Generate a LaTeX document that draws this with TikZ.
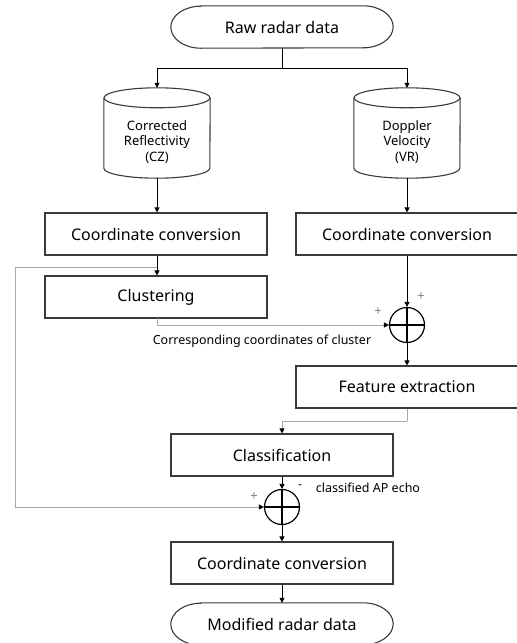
\documentclass[tikz,border=0pt]{standalone}
\usepackage{fontspec}
\setmainfont{Noto Sans}
\usetikzlibrary{arrows.meta}
\definecolor{edge}{HTML}{3A3A3A}
\definecolor{lgrey}{HTML}{A8A8A8}
\tikzset{
  x=1pt,y=-1pt,
  procbox/.style={draw=edge,line width=1.1pt,minimum width=222pt,minimum height=42pt,inner sep=0pt,font=\fontsize{16}{18}\selectfont},
  term/.style={minimum width=222pt,minimum height=42pt,inner sep=0pt,font=\fontsize{16}{18}\selectfont},
  cyl/.style={minimum width=106pt,minimum height=90pt,inner sep=0pt},
  sumnode/.style={draw=black,circle,line width=1.2pt,minimum size=35pt,inner sep=0pt},
  arr/.style={draw=black,line width=0.7pt,-{Triangle[length=5pt,width=5pt]}},
  garr/.style={draw=lgrey,line width=1pt,-{Triangle[length=5pt,width=5pt,color=black]}},
  gline/.style={draw=lgrey,line width=1pt},
  plus/.style={font=\fontsize{13}{13}\selectfont,text=gray,inner sep=0pt},
  smalltxt/.style={font=\fontsize{12.5}{14}\selectfont,inner sep=0pt},
}
\begin{document}
\begin{tikzpicture}
\useasboundingbox (0,0) rectangle (517,643);
% nodes
\node[term] (raw) at (282,27) {Raw radar data};
\node[term] (mod) at (282,624) {Modified radar data};
\foreach \t in {raw,mod}{
  \draw[draw=edge,line width=1.1pt] ([xshift=30pt]\t.north west) -- ([xshift=-30pt]\t.north east)
    arc[start angle=90,end angle=-90,x radius=30pt,y radius=21pt]
    -- ([xshift=30pt]\t.south west)
    arc[start angle=270,end angle=90,x radius=30pt,y radius=21pt] -- cycle;
}
\node[cyl] (cz) at (157,133) {};
\node[cyl] (vr) at (407,133) {};
\foreach \c in {cz,vr}{
  \draw[draw=edge,line width=1.1pt] ([yshift=-10pt]\c.north west) -- ([yshift=10pt]\c.south west)
    arc[start angle=180,end angle=360,x radius=53pt,y radius=10pt]
    -- ([yshift=-10pt]\c.north east);
  \draw[draw=edge,line width=1.1pt] ([yshift=-10pt]\c.north) ellipse[x radius=53pt,y radius=10pt];
}
\node[align=center,font=\fontsize{13}{15.5}\selectfont] (czt) at (157,142) {Corrected\\Reflectivity\\(CZ)};
\node[align=center,font=\fontsize{13}{15.5}\selectfont] (vrt) at (407,142) {Doppler\\Velocity\\(VR)};
\node[procbox] (conv1) at (156,234) {Coordinate conversion};
\node[procbox] (conv2) at (407,234) {Coordinate conversion};
\node[procbox] (clus) at (156,297) {Clustering};
\node[sumnode] (sum1) at (407,325) {};
\node[procbox] (feat) at (407,387) {Feature extraction};
\node[procbox] (cls) at (282,455) {Classification};
\node[sumnode] (sum2) at (282,507) {};
\node[procbox] (conv3) at (282,563) {Coordinate conversion};
\foreach \s in {sum1,sum2}{
  \draw[line width=1.2pt] (\s.north) -- (\s.south) (\s.west) -- (\s.east);
}
% labels
\node[plus] (p1) at (378,312) {+};
\node[plus] (p2) at (421,297) {+};
\node[plus] (p3) at (254,497) {+};
\node[inner sep=0pt,font=\fontsize{12}{12}\selectfont\bfseries] (m1) at (300,487) {-};
\node[smalltxt] (lab1) at (262,341) {Corresponding coordinates of cluster};
\node[smalltxt] (lab2) at (368,488) {classified AP echo};
% connectors
\coordinate (split) at (282,68);
\draw[draw=black,line width=0.7pt] (raw.south) -- (split);
\draw[arr] (split) -| (cz.north);
\draw[arr] (split) -| (vr.north);
\draw[arr] (cz.south) -- (conv1.north -| cz.south);
\draw[arr] (vr.south) -- (conv2.north -| vr.south);
\coordinate (c1s) at (157,256);
\coordinate (fb) at (157,267);
\coordinate (fbc) at (15,267);
\draw[arr] (c1s) -- (clus.north -| c1s);
\draw[arr] (conv2.south) -- (sum1.north);
\coordinate (clss) at (157,318);
\draw[garr] (clss) |- (sum1.west);
\draw[arr] (sum1.south) -- (feat.north);
\coordinate (fk) at (407,421);
\draw[gline] (feat.south) -- (fk);
\draw[garr] (fk) -| (cls.north);
\draw[arr] (cls.south) -- (sum2.north);
\draw[gline] (fb) -- (fbc);
\draw[garr] (fbc) |- (sum2.west);
\draw[arr] (sum2.south) -- (conv3.north);
\draw[arr] (conv3.south) -- (mod.north);
\end{tikzpicture}
\end{document}
